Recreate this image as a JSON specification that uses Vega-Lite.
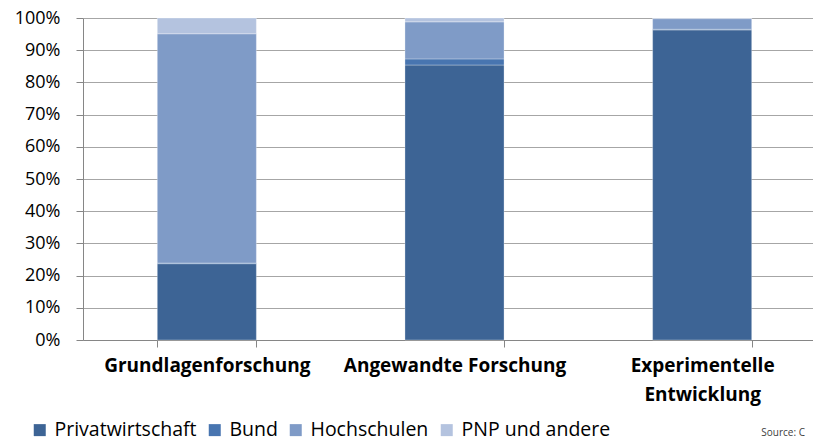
{
  "$schema": "https://vega.github.io/schema/vega-lite/v6.json",
  "width": 730,
  "height": 322,
  "autosize": {"type": "none"},
  "padding": {"left": 83, "top": 18, "right": 0, "bottom": 101},
  "background": "white",
  "config": {"view": {"stroke": null}, "font": "Open Sans"},
  "title": {"text": "Source: C", "orient": "bottom", "anchor": "end", "frame": "group", "fontSize": 10, "fontWeight": "normal", "color": "#404040", "offset": -2, "dx": -8, "baseline": "bottom"},
  "data": {
    "values": [
      {"Forschungsart": "Grundlagenforschung", "Quelle": "Privatwirtschaft", "Anteil": 23.7},
      {"Forschungsart": "Grundlagenforschung", "Quelle": "Bund", "Anteil": 0.2},
      {"Forschungsart": "Grundlagenforschung", "Quelle": "Hochschulen", "Anteil": 71.2},
      {"Forschungsart": "Grundlagenforschung", "Quelle": "PNP und andere", "Anteil": 4.9},
      {"Forschungsart": "Angewandte Forschung", "Quelle": "Privatwirtschaft", "Anteil": 85.4},
      {"Forschungsart": "Angewandte Forschung", "Quelle": "Bund", "Anteil": 1.9},
      {"Forschungsart": "Angewandte Forschung", "Quelle": "Hochschulen", "Anteil": 11.5},
      {"Forschungsart": "Angewandte Forschung", "Quelle": "PNP und andere", "Anteil": 1.2},
      {"Forschungsart": "Experimentelle Entwicklung", "Quelle": "Privatwirtschaft", "Anteil": 96.3},
      {"Forschungsart": "Experimentelle Entwicklung", "Quelle": "Bund", "Anteil": 0.2},
      {"Forschungsart": "Experimentelle Entwicklung", "Quelle": "Hochschulen", "Anteil": 3.3},
      {"Forschungsart": "Experimentelle Entwicklung", "Quelle": "PNP und andere", "Anteil": 0.2}
    ]
  },
  "transform": [
    {"calculate": "indexof(['Privatwirtschaft', 'Bund', 'Hochschulen', 'PNP und andere'], datum.Quelle)", "as": "Reihenfolge"}
  ],
  "mark": {"type": "bar", "stroke": "#ffffff", "strokeWidth": 0.6, "strokeOpacity": 0.5},
  "encoding": {
    "x": {
      "field": "Forschungsart",
      "type": "nominal",
      "sort": ["Grundlagenforschung", "Angewandte Forschung", "Experimentelle Entwicklung"],
      "scale": {"range": [0, 743], "paddingInner": 0.6, "paddingOuter": 0.3},
      "axis": {
        "title": null,
        "labelAngle": 0,
        "labelFontSize": 19,
        "labelFontWeight": "bold",
        "labelColor": "#000000",
        "labelPadding": 9,
        "labelLineHeight": 29,
        "labelLimit": 400,
        "labelExpr": "datum.label == 'Experimentelle Entwicklung' ? ['Experimentelle', 'Entwicklung'] : datum.label",
        "tickBand": "extent",
        "tickSize": 7,
        "tickColor": "#868686",
        "domainColor": "#868686",
        "grid": false
      }
    },
    "y": {
      "field": "Anteil",
      "type": "quantitative",
      "stack": "zero",
      "scale": {"domain": [0, 100], "nice": false},
      "axis": {
        "title": null,
        "values": [0, 10, 20, 30, 40, 50, 60, 70, 80, 90, 100],
        "labelExpr": "datum.value + '%'",
        "labelFontSize": 18,
        "labelColor": "#000000",
        "labelPadding": 16,
        "tickSize": 7,
        "tickColor": "#868686",
        "domainColor": "#868686",
        "gridColor": "#a6a6a6",
        "gridOpacity": 1
      }
    },
    "order": {"field": "Reihenfolge", "type": "quantitative", "sort": "ascending"},
    "color": {
      "field": "Quelle",
      "type": "nominal",
      "sort": ["Privatwirtschaft", "Bund", "Hochschulen", "PNP und andere"],
      "scale": {
        "domain": ["Privatwirtschaft", "Bund", "Hochschulen", "PNP und andere"],
        "range": ["#3d6495", "#4875b0", "#7f9bc7", "#b4c3df"]
      },
      "legend": {
        "title": null,
        "orient": "none",
        "legendX": -53,
        "legendY": 402,
        "direction": "horizontal",
        "symbolType": "square",
        "symbolSize": 144,
        "symbolStrokeWidth": 0,
        "labelFontSize": 19.5,
        "labelLimit": 300,
        "labelColor": "#000000",
        "labelOffset": 5,
        "columnPadding": 8
      }
    }
  }
}
